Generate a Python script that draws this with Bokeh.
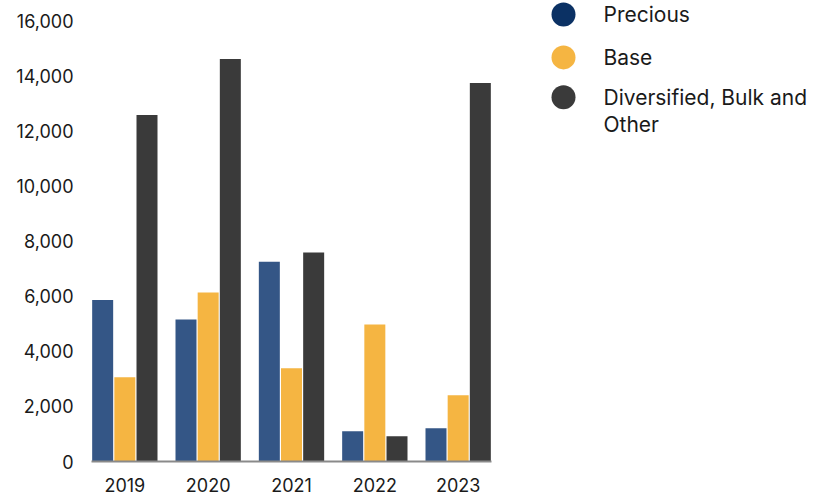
from bokeh.plotting import figure
from bokeh.layouts import row
from bokeh.models import ColumnDataSource, Range1d, FixedTicker, NumeralTickFormatter
from bokeh.transform import dodge
from bokeh.core.properties import value
from bokeh.embed import file_html
from bokeh.resources import INLINE

years = ["2019", "2020", "2021", "2022", "2023"]
precious = [5870, 5160, 7260, 1100, 1210]
base = [3060, 6140, 3390, 4980, 2410]
diversified = [12590, 14620, 7590, 920, 13750]
series_names = ["Precious", "Base", "Diversified, Bulk and\nOther"]
bar_colors = ["#345686", "#F5B542", "#3A3A3A"]
legend_colors = ["#0B3164", "#F5B542", "#3A3A3A"]
y_ticks = [0, 2000, 4000, 6000, 8000, 10000, 12000, 14000, 16000]

FONT = "Inter"
TXT = "#1a1a1a"

src = ColumnDataSource(dict(x=list(range(len(years))), precious=precious, base=base, div=diversified))

p = figure(width=500, height=494, x_range=Range1d(-0.4, 4.4), y_range=Range1d(0, 16745),
           output_backend="svg", toolbar_location=None,
           min_border_left=91, min_border_right=9, min_border_top=0, min_border_bottom=32)
p.outline_line_color = None
p.grid.visible = False
p.background_fill_color = "white"

off = 0.266
w = 0.252
for col, o, c in zip(["precious", "base", "div"], [-off, 0, off], bar_colors):
    p.vbar(x=dodge("x", o, range=p.x_range), top=col, bottom=0, width=w, source=src,
           fill_color=c, line_color=None)

p.xaxis.ticker = FixedTicker(ticks=list(range(len(years))))
p.xaxis.major_label_overrides = {i: y for i, y in enumerate(years)}
p.xaxis.major_tick_line_color = None
p.xaxis.minor_tick_line_color = None
p.xaxis.axis_line_color = "#8a8a8a"
p.xaxis.axis_line_width = 2
p.xaxis.major_label_standoff = 10
p.xaxis.major_label_text_font = FONT
p.xaxis.major_label_text_font_size = "18px"
p.xaxis.major_label_text_color = TXT

p.yaxis.ticker = FixedTicker(ticks=y_ticks)
p.yaxis.formatter = NumeralTickFormatter(format="0,0")
p.yaxis.axis_line_color = None
p.yaxis.major_tick_line_color = None
p.yaxis.minor_tick_line_color = None
p.yaxis.major_label_standoff = 12
p.yaxis.major_label_text_font = FONT
p.yaxis.major_label_text_font_size = "18px"
p.yaxis.major_label_text_color = TXT

# legend panel (frame is aligned with main frame: screen y 0..462)
lg = figure(width=314, height=494, x_range=Range1d(0, 314), y_range=Range1d(462, 0),
            output_backend="svg", toolbar_location=None,
            min_border_left=0, min_border_right=0, min_border_top=0, min_border_bottom=32)
lg.axis.visible = False
lg.grid.visible = False
lg.outline_line_color = None
cy = [14, 57, 97]
lg.scatter(x=[63] * 3, y=cy, size=24, marker="circle", fill_color=legend_colors, line_color=None)
lg.text(x=[103] * 3, y=[v - 12.5 for v in cy], text=series_names, text_font=value(FONT),
        text_font_size="21px", text_color=TXT, text_baseline="top", text_align="left",
        text_line_height=1.1)

layout = row(p, lg, spacing=0)
open("out.html", "w").write(file_html(layout, INLINE))
